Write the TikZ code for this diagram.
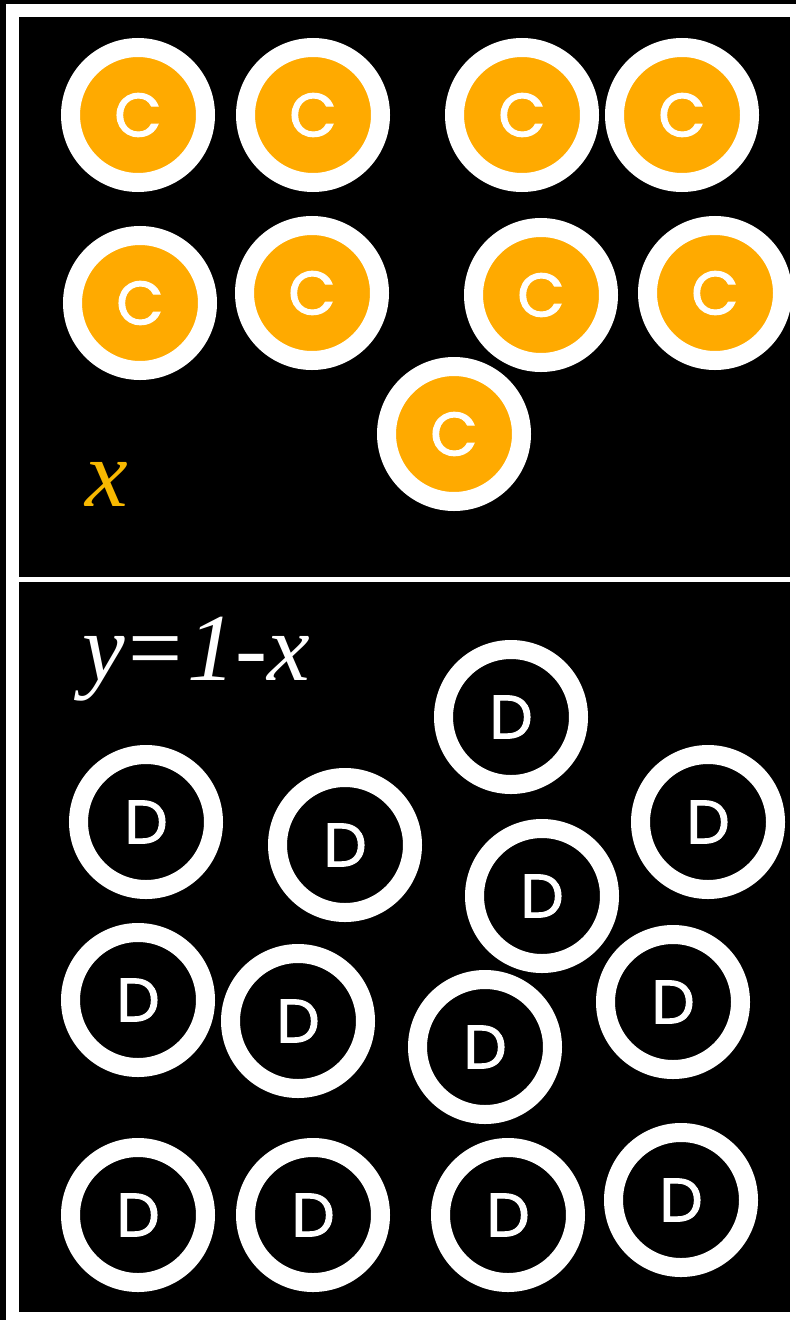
\documentclass[tikz,border=0pt]{standalone}
\usepackage{fontspec}
\setmainfont{Liberation Serif}
\newfontfamily\letterfont{Poppins}[FakeBold=1.6]
\definecolor{coinorange}{HTML}{FFAA00}
\definecolor{labelgold}{HTML}{F7B800}
\begin{document}
\begin{tikzpicture}[x=0.75pt, y=-0.75pt,
  coin/.style={circle, draw=white, line width=14.25pt, fill=coinorange,
               minimum size=101.25pt, inner sep=0pt, text=white,
               font=\letterfont\fontsize{46}{46}\selectfont},
  ring/.style={circle, draw=white, line width=14.25pt, fill=black,
               minimum size=101.25pt, inner sep=0pt, text=white,
               font=\letterfont\fontsize{46}{46}\selectfont},
  formula/.style={inner sep=0pt, font=\fontsize{72}{72}\selectfont}]
  \useasboundingbox (0,0) rectangle (796,1320);
  \fill[white] (0,0) rectangle (796,1320);
  \fill[black] (0,0) rectangle (796,4);
  \fill[black] (0,0) rectangle (6,1320);
  \fill[black] (19,17) rectangle (790,577);
  \fill[black] (19,582) rectangle (790,1312);

  % upper panel
  \begin{scope}
    \clip (19,17) rectangle (790,577);
    \node (c1) [coin] at (138,115) {C};
    \node (c2) [coin] at (313,115) {C};
    \node (c3) [coin] at (522,115) {C};
    \node (c4) [coin] at (682,115) {C};
    \node (c5) [coin] at (140,303) {C};
    \node (c6) [coin] at (312,293) {C};
    \node (c7) [coin] at (541,295) {C};
    \node (c8) [coin] at (715,293) {C};
    \node (c9) [coin] at (454,434) {C};
  \end{scope}
  \node (xlabel) [formula, text=labelgold] at (107,484) {\textit{x}};

  % lower panel
  \node (ylabel) [formula, text=white] at (196,659)
        {\textit{y}\kern3pt=\kern3pt\textit{1-x}};
  \node (d1)  [ring] at (511,717)  {D};
  \node (d2)  [ring] at (146,822)  {D};
  \node (d3)  [ring] at (345,845)  {D};
  \node (d4)  [ring] at (708,822)  {D};
  \node (d5)  [ring] at (542,896)  {D};
  \node (d6)  [ring] at (138,1000) {D};
  \node (d7)  [ring] at (298,1021) {D};
  \node (d8)  [ring] at (485,1047) {D};
  \node (d9)  [ring] at (673,1002) {D};
  \node (d10) [ring] at (138,1215) {D};
  \node (d11) [ring] at (313,1215) {D};
  \node (d12) [ring] at (508,1215) {D};
  \node (d13) [ring] at (681,1200) {D};
\end{tikzpicture}
\end{document}
